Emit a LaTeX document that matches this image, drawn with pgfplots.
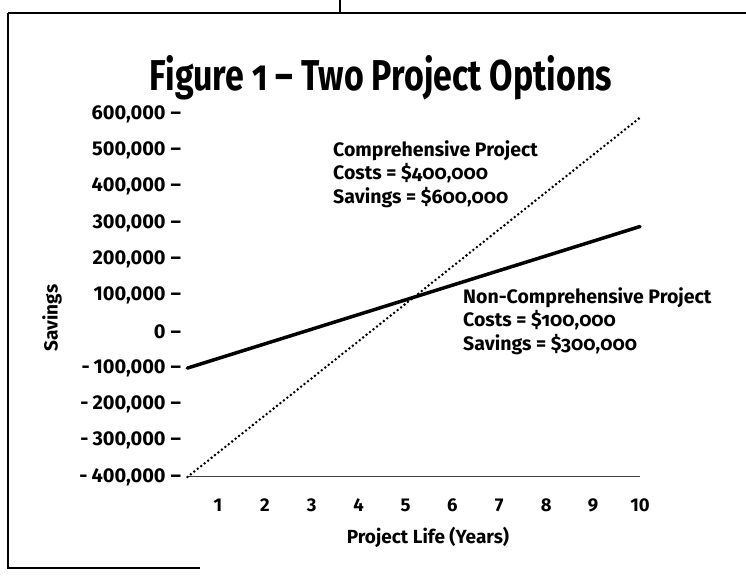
\documentclass[border=0pt]{standalone}
\usepackage{pgfplots}
\pgfplotsset{compat=1.18}
\usepackage{fontspec}
\setmainfont{Fira Sans}[Numbers=Lining]
\newfontfamily\old{Fira Sans}[Numbers=OldStyle]
\begin{document}
\begin{tikzpicture}[x=1pt,y=1pt]
\useasboundingbox (0,0) rectangle (746,578);
% frame
\draw[line width=2pt] (8,565) -- (746,565);
\draw[line width=1.2pt] (340,578) -- (340,565);
\draw[line width=1.5pt] (8,565) -- (8,10) -- (200,10);
% title
\node[anchor=base, inner sep=0pt] at (381,487) {\resizebox{462pt}{35pt}{\old\bfseries Figure 1 – Two Project Options}};
\begin{axis}[
  at={(187.4pt,101pt)}, anchor=south west,
  scale only axis, width=452.6pt, height=363pt,
  xmin=0.35, xmax=10, ymin=-400000, ymax=600000,
  axis x line=bottom, axis y line=left,
  y axis line style={draw=none},
  x axis line style={black!75, line width=1pt, -},
  tick style={draw=none},
  scaled y ticks=false,
  /pgf/number format/assume math mode=true,
  xtick={1,2,3,4,5,6,7,8,9,10},
  xticklabels={\mbox{1},\mbox{2},\mbox{3},\mbox{4},\mbox{5},\mbox{6},\mbox{7},\mbox{8},\mbox{9},\mbox{10}},
  ytick={-400000,-300000,-200000,-100000,0,100000,200000,300000,400000,500000,600000},
  yticklabels={{-\hspace{4pt}400,000\hspace{5pt}–}, {-\hspace{4pt}300,000\hspace{5pt}–}, {-\hspace{4pt}200,000\hspace{5pt}–}, {-\hspace{4pt}100,000\hspace{5pt}–}, {0\hspace{5pt}–}, {100,000\hspace{5pt}–}, {200,000\hspace{5pt}–}, {300,000\hspace{5pt}–}, {400,000\hspace{5pt}–}, {500,000\hspace{5pt}–}, {600,000\hspace{5pt}–}},
  yticklabel style={anchor=east, inner sep=0pt, xshift=-4pt, font=\bfseries\fontsize{20}{20}\selectfont},
  xticklabel style={anchor=base, inner sep=0pt, yshift=-32pt, font=\bfseries\fontsize{18.5}{18.5}\selectfont},
  clip=false,
]
\addplot[black, line width=3.5pt, line cap=round] coordinates {(0.35,-100000) (10,290000)};
\addplot[black, line width=2.8pt, line cap=round, dash pattern=on 0pt off 4.4pt] coordinates {(0.35,-400000) (10,590000)};
\end{axis}
% labels
\node[rotate=90, font=\bfseries\fontsize{19}{19}\selectfont] at (52,260) {Savings};
\node[font=\bfseries\fontsize{19}{19}\selectfont] at (428,41) {Project Life (Years)};
% annotations
\node[anchor=west, align=left, inner sep=0pt, font=\old\bfseries\fontsize{19.5}{23.5}\selectfont] at (333,404) {Comprehensive Project\\Costs = \$400,000\\Savings = \$600,000};
\node[anchor=west, align=left, inner sep=0pt, font=\old\bfseries\fontsize{19.5}{23.5}\selectfont] at (463,257) {Non-Comprehensive Project\\Costs = \$100,000\\Savings = \$300,000};
\end{tikzpicture}
\end{document}
